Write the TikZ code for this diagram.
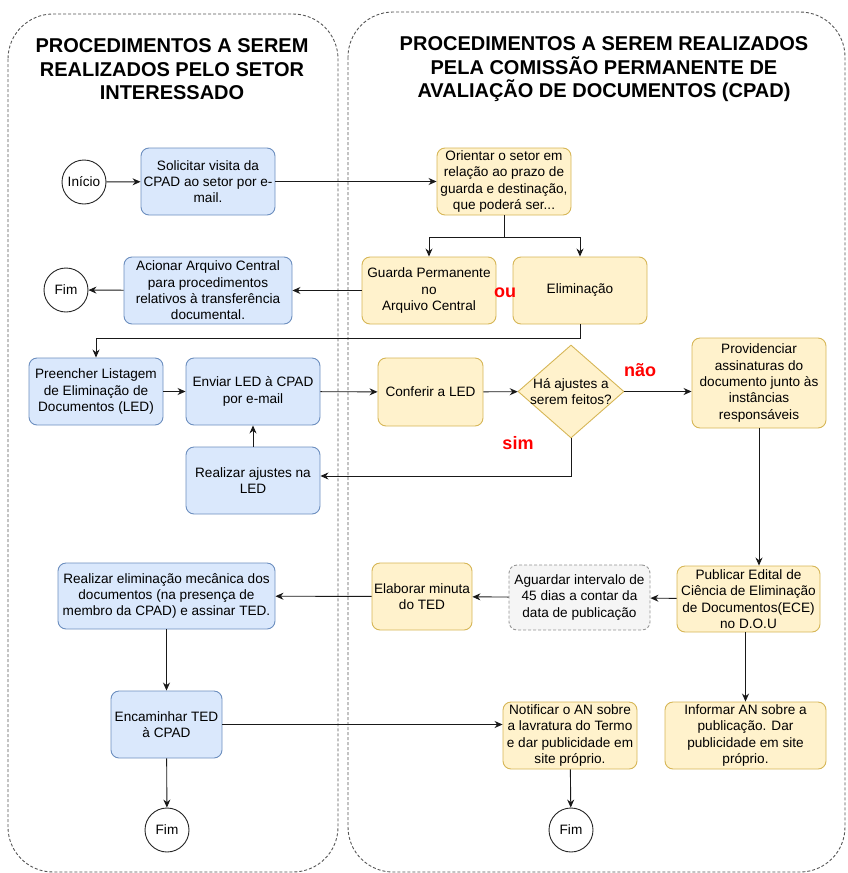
\documentclass[tikz,border=0pt]{standalone}
\usepackage{fontspec}
\setmainfont{Liberation Sans}
\usetikzlibrary{shapes.geometric,arrows.meta,calc}
\definecolor{bluefill}{HTML}{DAE8FC}
\definecolor{bluedraw}{HTML}{6C8EBF}
\definecolor{yelfill}{HTML}{FFF2CC}
\definecolor{yeldraw}{HTML}{D6B656}
\definecolor{grayfill}{HTML}{F5F5F5}
\definecolor{graydraw}{HTML}{666666}
\definecolor{lanecol}{HTML}{555555}
\tikzset{
  lane/.style={draw=lanecol, line width=0.9pt, dash pattern=on 3pt off 2pt, rounded corners=45pt},
  title/.style={font=\fontsize{20}{23.5}\selectfont\bfseries, align=center, inner sep=0pt},
  body/.style={font=\fontsize{13.6}{16.3}\selectfont, align=center, inner sep=0pt},
  bluebox/.style={body, draw=bluedraw, fill=bluefill, line width=0.9pt, rounded corners=8pt},
  yelbox/.style={body, draw=yeldraw, fill=yelfill, line width=0.9pt, rounded corners=8pt},
  graybox/.style={body, draw=graydraw!70, fill=grayfill, line width=0.9pt, dash pattern=on 3pt off 2pt, rounded corners=8pt},
  term/.style={body, draw=black!85, fill=white, circle, minimum size=44pt, line width=0.9pt},
  redlab/.style={font=\fontsize{18}{20}\selectfont\bfseries, text=red, inner sep=0pt},
  conn/.style={draw=black!90, line width=0.9pt, -{Stealth[length=8pt,width=7pt]}},
  plain/.style={draw=black!90, line width=0.9pt},
}
\begin{document}
\begin{tikzpicture}[x=1pt,y=-1pt]
\useasboundingbox (0,0) rectangle (848,873);
% lanes
\draw[lane] (8,14) rectangle (338,872);
\draw[lane] (348,12) rectangle (845,872);
% titles
\node[title] (t1) at (172,69.5) {PROCEDIMENTOS A SEREM\\REALIZADOS PELO SETOR\\INTERESSADO};
\node[title] (t2) at (604,69.5) {PROCEDIMENTOS A SEREM REALIZADOS\\PELA COMISSÃO PERMANENTE DE\\AVALIAÇÃO DE DOCUMENTOS (CPAD)};
% nodes
\node[term] (ini) at (84,182) {Início};
\node[bluebox, minimum width=134pt, minimum height=67pt] (sol) at (208,181.5) {Solicitar visita da\\CPAD ao setor por e-\\mail.};
\node[yelbox, minimum width=134pt, minimum height=67pt] (ori) at (504,181.5) {Orientar o setor em\\relação ao prazo de\\guarda e destinação,\\que poderá ser...};
\node[yelbox, minimum width=134pt, minimum height=67pt] (gua) at (429,290.5) {Guarda Permanente\\no\\Arquivo Central};
\node[yelbox, minimum width=134pt, minimum height=67pt] (eli) at (580,290.5) {Eliminação};
\node[redlab] (ou) at (505,293) {ou};
\node[bluebox, minimum width=168pt, minimum height=67pt] (aci) at (208,290.5) {Acionar Arquivo Central\\para procedimentos\\relativos à transferência\\documental.};
\node[term] (fim1) at (66,290) {Fim};
\node[bluebox, minimum width=134pt, minimum height=67pt] (pre) at (96,391.5) {Preencher Listagem\\de Eliminação de\\Documentos (LED)};
\node[bluebox, minimum width=134pt, minimum height=67pt] (env) at (253,391.5) {Enviar LED à CPAD\\por e-mail};
\node[bluebox, minimum width=134pt, minimum height=67pt] (aju) at (253,480.5) {Realizar ajustes na\\LED};
\node[yelbox, minimum width=105pt, minimum height=68pt] (con) at (430.5,392) {Conferir a LED};
\node[diamond, draw=yeldraw, fill=yelfill, line width=0.9pt, inner sep=0pt, minimum width=106pt, minimum height=93pt] (dia) at (571,391.5) {};
\node[body] (diat) at (571,391.5) {Há ajustes a\\serem feitos?};
\node[redlab] (nao) at (640,370) {não};
\node[redlab] (sim) at (518,443) {sim};
\node[yelbox, minimum width=134pt, minimum height=90pt] (pro) at (759,383) {Providenciar\\assinaturas do\\documento junto às\\instâncias\\responsáveis};
\node[yelbox, minimum width=143pt, minimum height=66pt] (pub) at (748.5,599) {Publicar Edital de\\Ciência de Eliminação\\de Documentos(ECE)\\no D.O.U};
\node[graybox, minimum width=141pt, minimum height=65pt] (agu) at (579.5,597.5) {Aguardar intervalo de\\45 dias a contar da\\data de publicação};
\node[yelbox, minimum width=100pt, minimum height=67pt] (ela) at (422,596.5) {Elaborar minuta\\do TED};
\node[bluebox, minimum width=217pt, minimum height=66pt] (rel) at (166.5,596) {Realizar eliminação mecânica dos\\documentos (na presença de\\membro da CPAD) e assinar TED.};
\node[bluebox, minimum width=111pt, minimum height=67pt] (enc) at (166.5,724.5) {Encaminhar TED\\à CPAD};
\node[term] (fim2) at (167,830) {Fim};
\node[yelbox, minimum width=134pt, minimum height=67pt] (not) at (570,735.5) {Notificar o AN sobre\\a lavratura do Termo\\e dar publicidade em\\site próprio.};
\node[yelbox, minimum width=161pt, minimum height=67pt] (inf) at (745.5,735.5) {Informar AN sobre a\\publicação. Dar\\publicidade em site\\próprio.};
\node[term] (fim3) at (571,830) {Fim};
% helper coordinates
\coordinate (split) at (504,237);
\coordinate (back) at (96,338);
\coordinate (simc) at (571,476);
% connectors
\draw[conn] (ini) -- (sol);
\draw[conn] (sol) -- (ori);
\draw[plain] (ori.south) -- (split);
\draw[conn] (split) -| (gua.north);
\draw[conn] (split) -| (eli.north);
\draw[conn] (gua) -- (aci);
\draw[conn] (aci) -- (fim1);
\draw[conn] (eli.south) |- (back) -- (pre.north);
\draw[conn] (pre) -- (env);
\draw[conn] (env) -- (con);
\draw[conn] (con) -- (dia);
\draw[conn] (dia.east) -- (dia.east -| pro.west);
\draw[conn] (dia.south) -- (simc) -- (simc -| aju.east);
\draw[conn] (aju) -- (env);
\draw[conn] (pro.south) -- (pro.south |- pub.north);
\draw[conn] (pub) -- (agu);
\draw[conn] (agu) -- (ela);
\draw[conn] (ela) -- (rel);
\draw[conn] (pub.south -| inf.north) -- (inf.north);
\draw[conn] (rel) -- (enc);
\draw[conn] (enc.east) -- (enc.east -| not.west);
\draw[conn] (enc) -- (fim2);
\draw[conn] (not) -- (fim3);
\end{tikzpicture}
\end{document}
